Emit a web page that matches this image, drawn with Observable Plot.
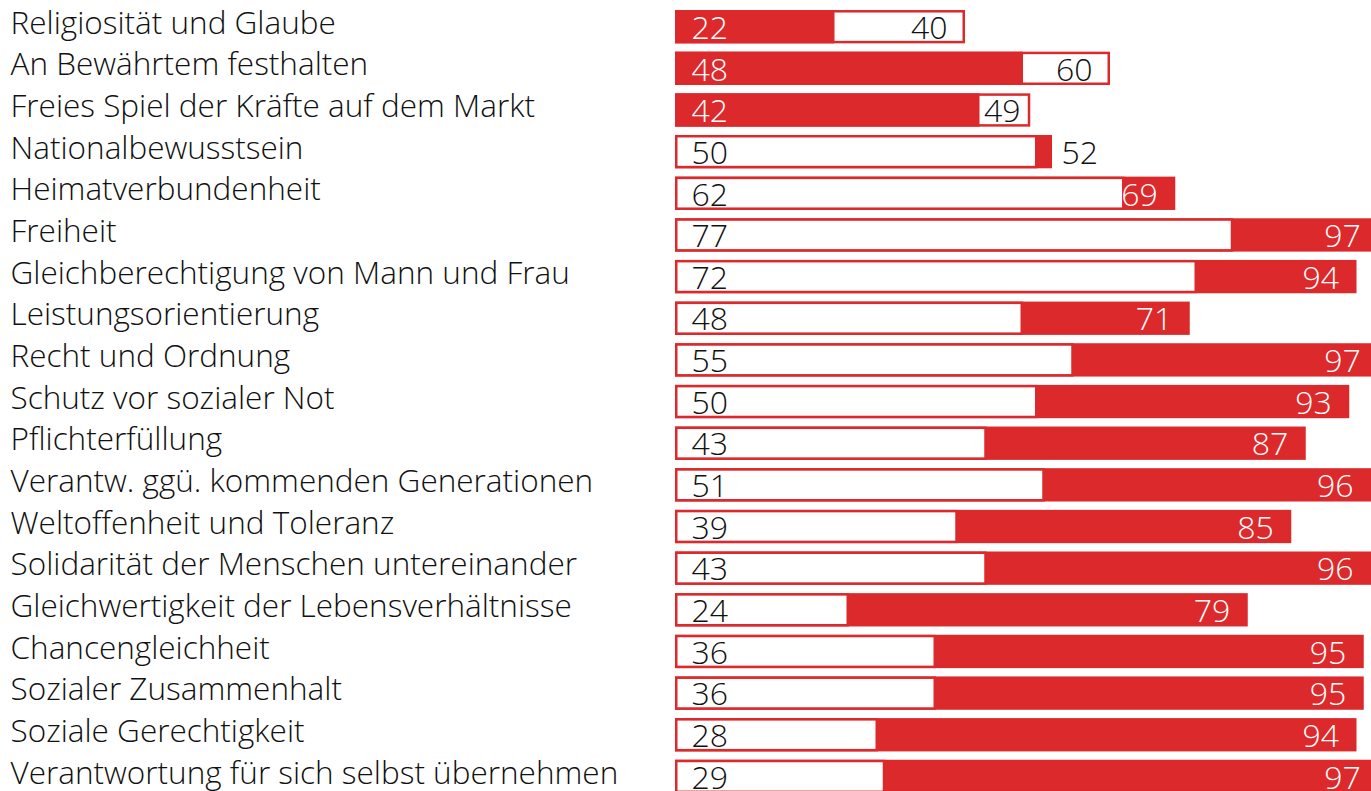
<!DOCTYPE html>
<html>
<head>
<meta charset="utf-8">
<script src="https://cdn.jsdelivr.net/npm/d3@7"></script>
<script src="https://cdn.jsdelivr.net/npm/@observablehq/plot@0.6"></script>
<style>
  html, body { margin: 0; padding: 0; background: #fff; overflow: hidden; }
  #chart svg { overflow: hidden; display: block; }
</style>
</head>
<body>
<div id="chart"></div>
<script>
const labels = [
  "Religiosität und Glaube",
  "An Bewährtem festhalten",
  "Freies Spiel der Kräfte auf dem Markt",
  "Nationalbewusstsein",
  "Heimatverbundenheit",
  "Freiheit",
  "Gleichberechtigung von Mann und Frau",
  "Leistungsorientierung",
  "Recht und Ordnung",
  "Schutz vor sozialer Not",
  "Pflichterfüllung",
  "Verantw. ggü. kommenden Generationen",
  "Weltoffenheit und Toleranz",
  "Solidarität der Menschen untereinander",
  "Gleichwertigkeit der Lebensverhältnisse",
  "Chancengleichheit",
  "Sozialer Zusammenhalt",
  "Soziale Gerechtigkeit",
  "Verantwortung für sich selbst übernehmen"
];
const redValues   = [22, 48, 42, 52, 69, 97, 94, 71, 97, 93, 87, 96, 85, 96, 79, 95, 95, 94, 97];
const whiteValues = [40, 60, 49, 50, 62, 77, 72, 48, 55, 50, 43, 51, 39, 43, 24, 36, 36, 28, 29];

const RED = "#dc292b";
const INK = "#111111";
const FONT = "'Open Sans', Lato, sans-serif";

const rows = labels.map((label, i) => {
  const r = redValues[i], w = whiteValues[i];
  const redBig = r >= w;
  return {
    label,
    big: Math.max(r, w), small: Math.min(r, w),
    bigFill: redBig ? RED : "white",
    smallFill: redBig ? "white" : RED,
    smallText: redBig ? INK : "white",
    bigText: redBig ? "white" : INK,
    diff: Math.abs(r - w)
  };
});
rows.forEach(d => {
  d.mode = d.diff <= 3 ? "outside" : (d.diff <= 7 && d.big < 60 && d.bigFill === "white" && d.small > 40 ? "tight" : "inside");
});

const NUM = 32;
const chart = Plot.plot({
  width: 1371,
  height: 791,
  marginLeft: 675,
  marginRight: 0,
  marginTop: 0,
  marginBottom: 0,
  x: { domain: [0, 96], range: [675, 1371], axis: null },
  y: { domain: labels, range: [1.7, 801.4], padding: 0.2, round: false, axis: null },
  style: { fontFamily: FONT, background: "white" },
  marks: [
    Plot.barX(rows, { y: "label", x: "big", fill: "bigFill", stroke: RED, strokeWidth: 2.5, inset: 1.25 }),
    Plot.barX(rows, { y: "label", x: "small", fill: "smallFill", stroke: RED, strokeWidth: 2.5, inset: 1.25 }),
    Plot.text(rows, { y: "label", frameAnchor: "left", text: "label", dx: -665, dy: -3.5, textAnchor: "start", fontSize: 31.5, fontWeight: 300, fill: INK }),
    Plot.text(rows, { y: "label", x: 0, text: d => String(d.small), dx: 16, dy: 1.5, textAnchor: "start", fontSize: NUM, fontWeight: 300, fill: "smallText" }),
    Plot.text(rows.filter(d => d.mode === "inside"), { y: "label", x: "big", text: d => String(d.big), dx: -18, dy: 1.5, textAnchor: "end", fontSize: NUM, fontWeight: 300, fill: "bigText" }),
    Plot.text(rows.filter(d => d.mode === "tight"), { y: "label", x: "small", text: d => String(d.big), dx: 4, dy: 1.5, textAnchor: "start", fontSize: NUM, fontWeight: 300, fill: "bigText" }),
    Plot.text(rows.filter(d => d.mode === "outside"), { y: "label", x: "big", text: d => String(d.big), dx: 9, dy: 1.5, textAnchor: "start", fontSize: NUM, fontWeight: 300, fill: INK })
  ]
});
document.getElementById("chart").appendChild(chart);
</script>
</body>
</html>
